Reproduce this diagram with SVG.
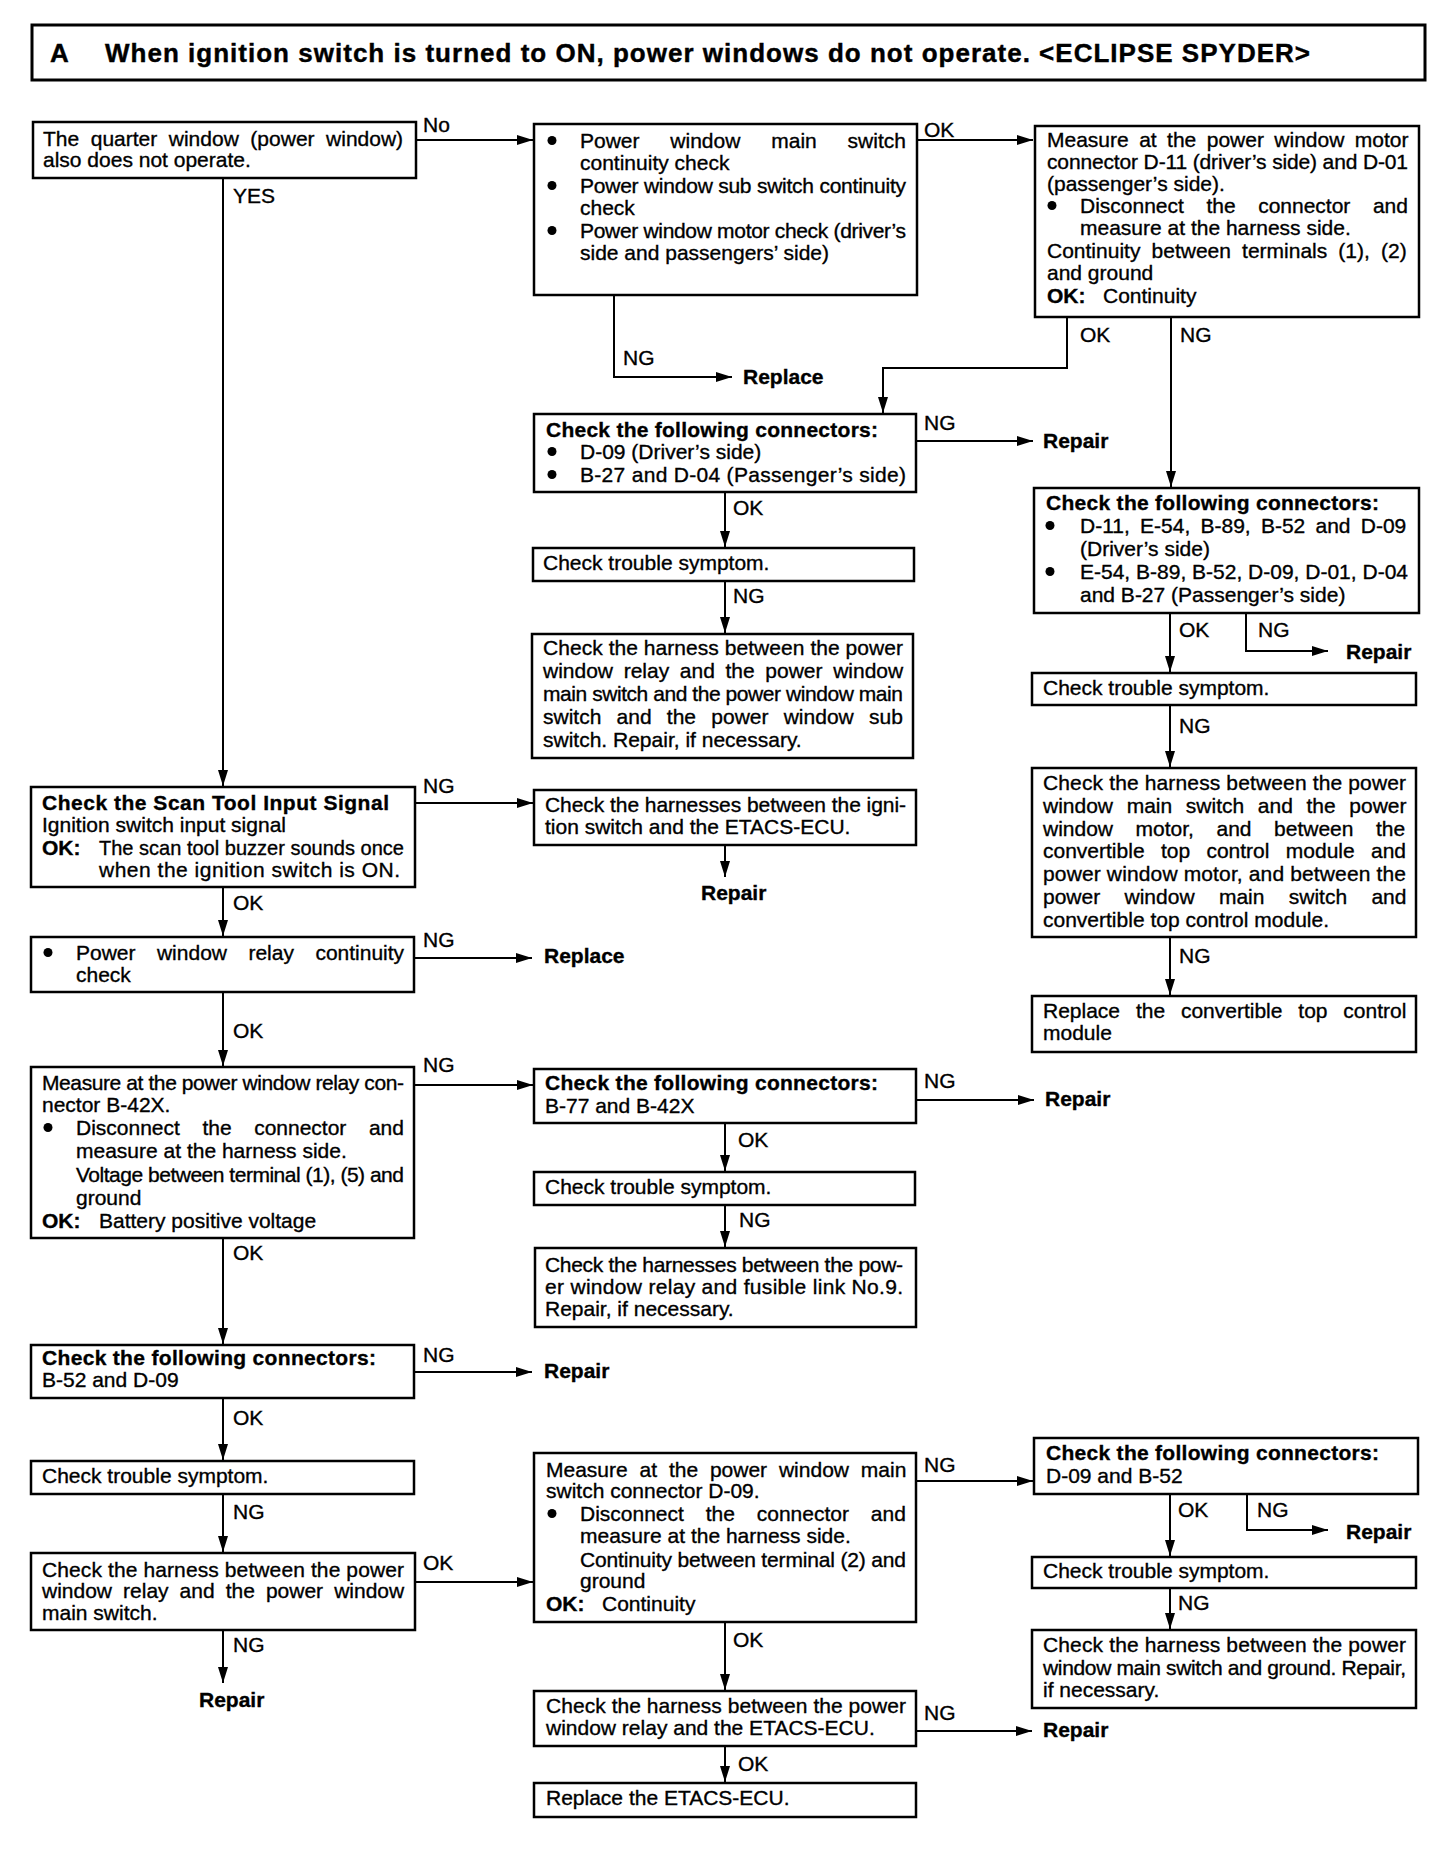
<svg xmlns="http://www.w3.org/2000/svg" width="1456" height="1860" viewBox="0 0 1456 1860">
<defs>
<style>
.b{fill:#fff;stroke:#000;stroke-width:2.5}
.h{fill:#fff;stroke:#000;stroke-width:3}
.t{font-family:"Liberation Sans",Arial,Helvetica,sans-serif;font-size:21px;fill:#000;stroke:#000;stroke-width:0.35}
.bd{font-weight:bold}
.ttl{font-family:"Liberation Sans",Arial,Helvetica,sans-serif;font-size:26px;font-weight:bold;fill:#000;stroke:#000;stroke-width:0.4}
.c{fill:none;stroke:#000;stroke-width:2}
.dot{fill:#000}
</style>
<marker id="ah" markerWidth="17" markerHeight="11" refX="16" refY="5" orient="auto" markerUnits="userSpaceOnUse">
<path d="M0,0 L16,5 L0,10 z" fill="#000"/>
</marker>
</defs>
<rect width="1456" height="1860" fill="#fff"/>

<g id="title">
<rect class="h" x="32" y="25" width="1393" height="55"/>
<text class="ttl" x="50" y="62">A</text>
<text class="ttl" x="105" y="62" textLength="1205" lengthAdjust="spacing">When ignition switch is turned to ON, power windows do not operate. &lt;ECLIPSE SPYDER&gt;</text>
</g>

<g id="connectors">
<path class="c" d="M416,140 H533" marker-end="url(#ah)"/>
<path class="c" d="M917,140 H1033" marker-end="url(#ah)"/>
<path class="c" d="M614,295 V377 H732" marker-end="url(#ah)"/>
<path class="c" d="M1067,317 V368 H883 V413" marker-end="url(#ah)"/>
<path class="c" d="M1171,317 V487" marker-end="url(#ah)"/>
<path class="c" d="M917,441 H1033" marker-end="url(#ah)"/>
<path class="c" d="M725,492 V547" marker-end="url(#ah)"/>
<path class="c" d="M725,581 V633" marker-end="url(#ah)"/>
<path class="c" d="M1170,613 V672" marker-end="url(#ah)"/>
<path class="c" d="M1246,613 V651 H1328" marker-end="url(#ah)"/>
<path class="c" d="M1170,705 V767" marker-end="url(#ah)"/>
<path class="c" d="M1170,937 V995" marker-end="url(#ah)"/>
<path class="c" d="M223,178 V786" marker-end="url(#ah)"/>
<path class="c" d="M415,803 H533" marker-end="url(#ah)"/>
<path class="c" d="M725,845 V877" marker-end="url(#ah)"/>
<path class="c" d="M223,887 V936" marker-end="url(#ah)"/>
<path class="c" d="M414,958 H532" marker-end="url(#ah)"/>
<path class="c" d="M223,992 V1066" marker-end="url(#ah)"/>
<path class="c" d="M414,1085 H533" marker-end="url(#ah)"/>
<path class="c" d="M916,1100 H1034" marker-end="url(#ah)"/>
<path class="c" d="M725,1123 V1171" marker-end="url(#ah)"/>
<path class="c" d="M725,1205 V1247" marker-end="url(#ah)"/>
<path class="c" d="M223,1238 V1344" marker-end="url(#ah)"/>
<path class="c" d="M414,1372 H532" marker-end="url(#ah)"/>
<path class="c" d="M223,1398 V1460" marker-end="url(#ah)"/>
<path class="c" d="M223,1494 V1552" marker-end="url(#ah)"/>
<path class="c" d="M415,1582 H533" marker-end="url(#ah)"/>
<path class="c" d="M223,1630 V1683" marker-end="url(#ah)"/>
<path class="c" d="M916,1481 H1033" marker-end="url(#ah)"/>
<path class="c" d="M725,1622 V1690" marker-end="url(#ah)"/>
<path class="c" d="M916,1731 H1032" marker-end="url(#ah)"/>
<path class="c" d="M725,1746 V1782" marker-end="url(#ah)"/>
<path class="c" d="M1170,1494 V1556" marker-end="url(#ah)"/>
<path class="c" d="M1247,1494 V1530 H1328" marker-end="url(#ah)"/>
<path class="c" d="M1170,1588 V1629" marker-end="url(#ah)"/>
<g class="t">
<text x="423" y="132">No</text>
<text x="924" y="137">OK</text>
<text x="623" y="365">NG</text>
<text x="1080" y="342">OK</text>
<text x="1180" y="342">NG</text>
<text x="924" y="430">NG</text>
<text x="733" y="515">OK</text>
<text x="733" y="603">NG</text>
<text x="1179" y="637">OK</text>
<text x="1258" y="637">NG</text>
<text x="1179" y="733">NG</text>
<text x="1179" y="963">NG</text>
<text x="233" y="203">YES</text>
<text x="423" y="793">NG</text>
<text x="233" y="910">OK</text>
<text x="423" y="947">NG</text>
<text x="233" y="1038">OK</text>
<text x="423" y="1072">NG</text>
<text x="924" y="1088">NG</text>
<text x="738" y="1147">OK</text>
<text x="739" y="1227">NG</text>
<text x="233" y="1260">OK</text>
<text x="423" y="1362">NG</text>
<text x="233" y="1425">OK</text>
<text x="233" y="1519">NG</text>
<text x="423" y="1570">OK</text>
<text x="233" y="1652">NG</text>
<text x="924" y="1472">NG</text>
<text x="733" y="1647">OK</text>
<text x="924" y="1720">NG</text>
<text x="738" y="1771">OK</text>
<text x="1178" y="1517">OK</text>
<text x="1257" y="1517">NG</text>
<text x="1178" y="1610">NG</text>
</g>
<g class="t bd">
<text x="743" y="384">Replace</text>
<text x="1043" y="448">Repair</text>
<text x="1346" y="659">Repair</text>
<text x="701" y="900">Repair</text>
<text x="544" y="963">Replace</text>
<text x="1045" y="1106">Repair</text>
<text x="544" y="1378">Repair</text>
<text x="199" y="1707">Repair</text>
<text x="1043" y="1737">Repair</text>
<text x="1346" y="1539">Repair</text>
</g>
</g>

<g id="n1">
<rect class="b" x="33" y="122" width="383" height="56"/>
<text class="t" x="43" y="146" word-spacing="5.7">The quarter window (power window)</text>
<text class="t" x="43" y="167">also does not operate.</text>
</g>

<g id="n2">
<rect class="b" x="534" y="124" width="383" height="171"/>
<circle class="dot" cx="552" cy="140.5" r="4.5"/>
<circle class="dot" cx="552" cy="185.5" r="4.5"/>
<circle class="dot" cx="552" cy="230.5" r="4.5"/>
<text class="t" x="580" y="148" word-spacing="25">Power window main switch</text>
<text class="t" x="580" y="170">continuity check</text>
<text class="t" x="580" y="193" textLength="326" lengthAdjust="spacing">Power window sub switch continuity</text>
<text class="t" x="580" y="215">check</text>
<text class="t" x="580" y="238" textLength="326" lengthAdjust="spacing">Power window motor check (driver’s</text>
<text class="t" x="580" y="260">side and passengers’ side)</text>
</g>

<g id="n3">
<rect class="b" x="1035" y="126" width="384" height="191"/>
<circle class="dot" cx="1052" cy="205.5" r="4.5"/>
<text class="t" x="1047" y="147" word-spacing="4.6">Measure at the power window motor</text>
<text class="t" x="1047" y="169" textLength="361" lengthAdjust="spacing">connector D-11 (driver’s side) and D-01</text>
<text class="t" x="1047" y="191">(passenger’s side).</text>
<text class="t" x="1080" y="213" word-spacing="16.7">Disconnect the connector and</text>
<text class="t" x="1080" y="235">measure at the harness side.</text>
<text class="t" x="1047" y="258" word-spacing="5.3">Continuity between terminals (1), (2)</text>
<text class="t" x="1047" y="280">and ground</text>
<text class="t bd" x="1047" y="303">OK:</text>
<text class="t" x="1103" y="303">Continuity</text>
</g>

<g id="n4">
<rect class="b" x="534" y="414" width="382" height="78"/>
<circle class="dot" cx="552" cy="451.5" r="4.5"/>
<circle class="dot" cx="552" cy="474.5" r="4.5"/>
<text class="t bd" x="546" y="437" textLength="332" lengthAdjust="spacing">Check the following connectors:</text>
<text class="t" x="580" y="459">D-09 (Driver’s side)</text>
<text class="t" x="580" y="482" textLength="326" lengthAdjust="spacing">B-27 and D-04 (Passenger’s side)</text>
</g>

<g id="n5">
<rect class="b" x="1034" y="488" width="385" height="125"/>
<circle class="dot" cx="1050" cy="525.5" r="4.5"/>
<circle class="dot" cx="1050" cy="571.5" r="4.5"/>
<text class="t bd" x="1046" y="510" textLength="333" lengthAdjust="spacing">Check the following connectors:</text>
<text class="t" x="1080" y="533" word-spacing="4.4">D-11, E-54, B-89, B-52 and D-09</text>
<text class="t" x="1080" y="556">(Driver’s side)</text>
<text class="t" x="1080" y="579" textLength="328" lengthAdjust="spacing">E-54, B-89, B-52, D-09, D-01, D-04</text>
<text class="t" x="1080" y="602">and B-27 (Passenger’s side)</text>
</g>

<g id="n6">
<rect class="b" x="533" y="548" width="381" height="33"/>
<text class="t" x="543" y="570">Check trouble symptom.</text>
</g>

<g id="n7">
<rect class="b" x="532" y="634" width="381" height="124"/>
<text class="t" x="543" y="655" textLength="360" lengthAdjust="spacing">Check the harness between the power</text>
<text class="t" x="543" y="678" word-spacing="4.8">window relay and the power window</text>
<text class="t" x="543" y="701" textLength="360" lengthAdjust="spacing">main switch and the power window main</text>
<text class="t" x="543" y="724" word-spacing="9.4">switch and the power window sub</text>
<text class="t" x="543" y="747">switch. Repair, if necessary.</text>
</g>

<g id="n8">
<rect class="b" x="1032" y="673" width="384" height="32"/>
<text class="t" x="1043" y="695">Check trouble symptom.</text>
</g>

<g id="n9">
<rect class="b" x="1032" y="768" width="384" height="169"/>
<text class="t" x="1043" y="790" textLength="363" lengthAdjust="spacing">Check the harness between the power</text>
<text class="t" x="1043" y="813" word-spacing="7.8">window main switch and the power</text>
<text class="t" x="1043" y="836" word-spacing="16.7">window motor, and between the</text>
<text class="t" x="1043" y="858" word-spacing="10.5">convertible top control module and</text>
<text class="t" x="1043" y="881" textLength="363" lengthAdjust="spacing">power window motor, and between the</text>
<text class="t" x="1043" y="904" word-spacing="18.5">power window main switch and</text>
<text class="t" x="1043" y="927">convertible top control module.</text>
</g>

<g id="n10">
<rect class="b" x="1032" y="996" width="384" height="56"/>
<text class="t" x="1043" y="1018" word-spacing="10">Replace the convertible top control</text>
<text class="t" x="1043" y="1040">module</text>
</g>

<g id="n11">
<rect class="b" x="31" y="787" width="384" height="100"/>
<text class="t bd" x="42" y="810" textLength="347" lengthAdjust="spacing">Check the Scan Tool Input Signal</text>
<text class="t" x="42" y="832">Ignition switch input signal</text>
<text class="t bd" x="42" y="855">OK:</text>
<text class="t" x="99" y="855" textLength="305" lengthAdjust="spacingAndGlyphs">The scan tool buzzer sounds once</text>
<text class="t" x="99" y="877" textLength="301" lengthAdjust="spacing">when the ignition switch is ON.</text>
</g>

<g id="n12">
<rect class="b" x="534" y="790" width="382" height="55"/>
<text class="t" x="545" y="812" textLength="361" lengthAdjust="spacing">Check the harnesses between the igni-</text>
<text class="t" x="545" y="834">tion switch and the ETACS-ECU.</text>
</g>

<g id="n13">
<rect class="b" x="31" y="937" width="383" height="55"/>
<circle class="dot" cx="48" cy="952.5" r="4.5"/>
<text class="t" x="76" y="960" word-spacing="15.6">Power window relay continuity</text>
<text class="t" x="76" y="982">check</text>
</g>

<g id="n14">
<rect class="b" x="31" y="1067" width="383" height="171"/>
<circle class="dot" cx="48" cy="1127.5" r="4.5"/>
<text class="t" x="42" y="1090" textLength="362" lengthAdjust="spacing">Measure at the power window relay con-</text>
<text class="t" x="42" y="1112">nector B-42X.</text>
<text class="t" x="76" y="1135" word-spacing="16.7">Disconnect the connector and</text>
<text class="t" x="76" y="1158">measure at the harness side.</text>
<text class="t" x="76" y="1182" textLength="328" lengthAdjust="spacing">Voltage between terminal (1), (5) and</text>
<text class="t" x="76" y="1205">ground</text>
<text class="t bd" x="42" y="1228">OK:</text>
<text class="t" x="99" y="1228">Battery positive voltage</text>
</g>

<g id="n15">
<rect class="b" x="534" y="1069" width="382" height="54"/>
<text class="t bd" x="545" y="1090" textLength="333" lengthAdjust="spacing">Check the following connectors:</text>
<text class="t" x="545" y="1113">B-77 and B-42X</text>
</g>

<g id="n16">
<rect class="b" x="534" y="1172" width="381" height="33"/>
<text class="t" x="545" y="1194">Check trouble symptom.</text>
</g>

<g id="n17">
<rect class="b" x="535" y="1248" width="381" height="79"/>
<text class="t" x="545" y="1272" textLength="358" lengthAdjust="spacing">Check the harnesses between the pow-</text>
<text class="t" x="545" y="1294" textLength="358" lengthAdjust="spacing">er window relay and fusible link No.9.</text>
<text class="t" x="545" y="1316">Repair, if necessary.</text>
</g>

<g id="n18">
<rect class="b" x="31" y="1345" width="383" height="53"/>
<text class="t bd" x="42" y="1365" textLength="334" lengthAdjust="spacing">Check the following connectors:</text>
<text class="t" x="42" y="1387">B-52 and D-09</text>
</g>

<g id="n19">
<rect class="b" x="31" y="1461" width="383" height="33"/>
<text class="t" x="42" y="1483">Check trouble symptom.</text>
</g>

<g id="n20">
<rect class="b" x="31" y="1553" width="384" height="77"/>
<text class="t" x="42" y="1577" textLength="362" lengthAdjust="spacing">Check the harness between the power</text>
<text class="t" x="42" y="1598" word-spacing="5.2">window relay and the power window</text>
<text class="t" x="42" y="1620">main switch.</text>
</g>

<g id="n21">
<rect class="b" x="534" y="1453" width="382" height="169"/>
<circle class="dot" cx="552" cy="1513.5" r="4.5"/>
<text class="t" x="546" y="1477" word-spacing="6">Measure at the power window main</text>
<text class="t" x="546" y="1498">switch connector D-09.</text>
<text class="t" x="580" y="1521" word-spacing="16">Disconnect the connector and</text>
<text class="t" x="580" y="1543">measure at the harness side.</text>
<text class="t" x="580" y="1567" textLength="326" lengthAdjust="spacing">Continuity between terminal (2) and</text>
<text class="t" x="580" y="1588">ground</text>
<text class="t bd" x="546" y="1611">OK:</text>
<text class="t" x="602" y="1611">Continuity</text>
</g>

<g id="n22">
<rect class="b" x="1034" y="1438" width="384" height="56"/>
<text class="t bd" x="1046" y="1460" textLength="333" lengthAdjust="spacing">Check the following connectors:</text>
<text class="t" x="1046" y="1483">D-09 and B-52</text>
</g>

<g id="n23">
<rect class="b" x="534" y="1691" width="382" height="55"/>
<text class="t" x="546" y="1713" textLength="360" lengthAdjust="spacing">Check the harness between the power</text>
<text class="t" x="546" y="1735">window relay and the ETACS-ECU.</text>
</g>

<g id="n24">
<rect class="b" x="534" y="1783" width="382" height="34"/>
<text class="t" x="546" y="1805">Replace the ETACS-ECU.</text>
</g>

<g id="n25">
<rect class="b" x="1032" y="1557" width="384" height="31"/>
<text class="t" x="1043" y="1578">Check trouble symptom.</text>
</g>

<g id="n26">
<rect class="b" x="1032" y="1630" width="384" height="78"/>
<text class="t" x="1043" y="1652" textLength="363" lengthAdjust="spacing">Check the harness between the power</text>
<text class="t" x="1043" y="1675" textLength="363" lengthAdjust="spacing">window main switch and ground. Repair,</text>
<text class="t" x="1043" y="1697">if necessary.</text>
</g>
</svg>
